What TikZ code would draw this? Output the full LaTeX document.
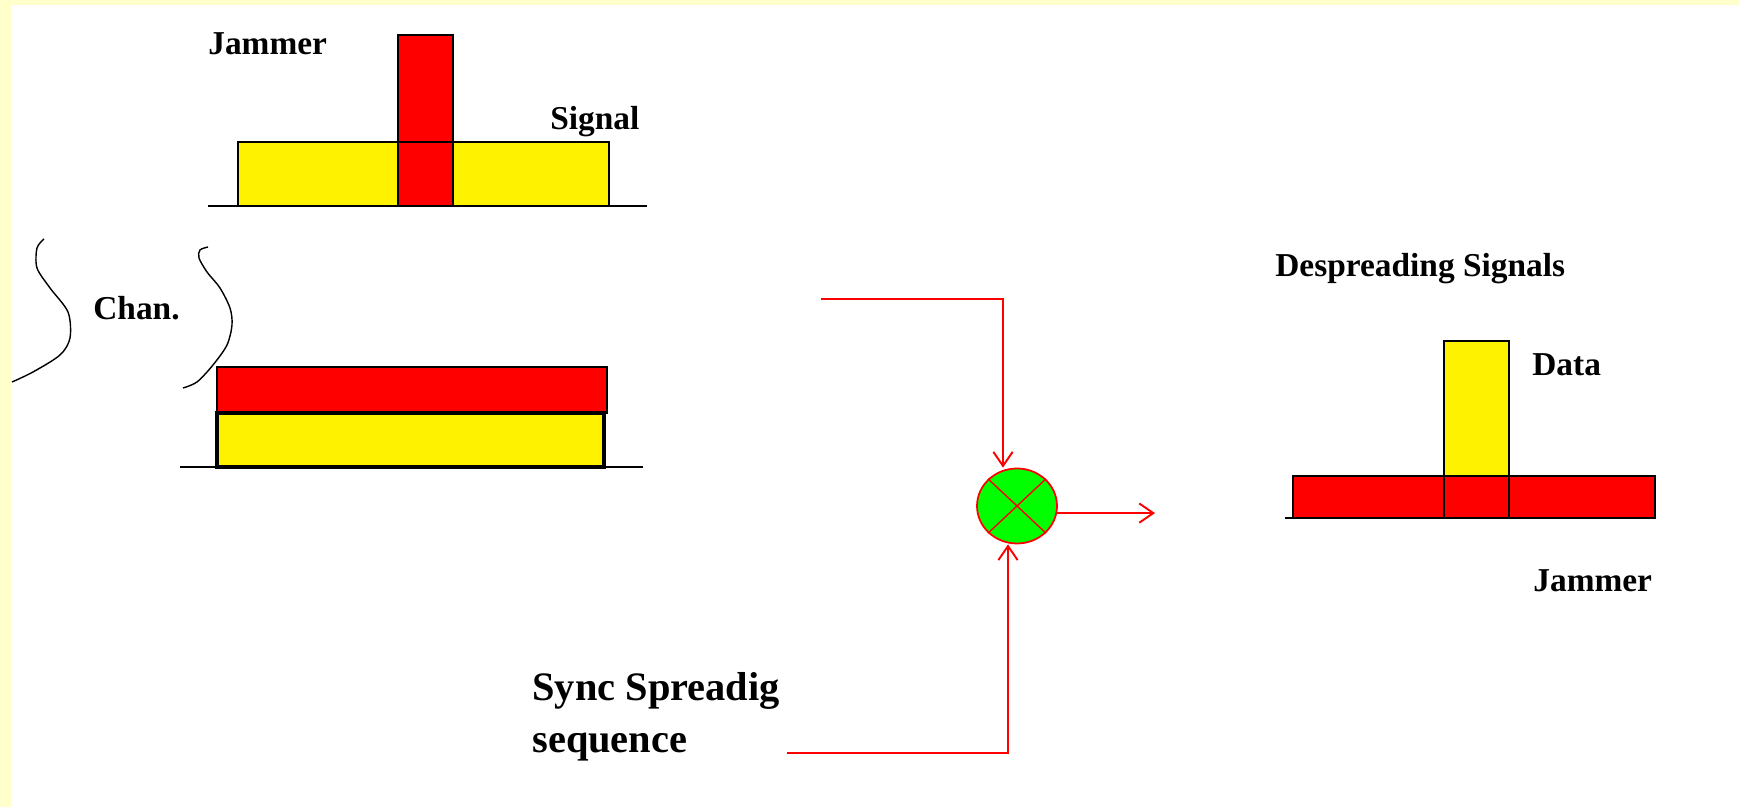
\documentclass[tikz,border=0pt]{standalone}
\usepackage{fontspec}
\setmainfont{Liberation Serif}
\usetikzlibrary{arrows.meta,shapes.geometric}

\definecolor{pagebg}{HTML}{FFFFCC}

\begin{document}
\begin{tikzpicture}[x=2cm,y=2cm,
    lbl/.style={font=\bfseries\fontsize{19}{22}\selectfont, anchor=base west, inner sep=0pt},
    jam/.style={fill=red, draw=black, line width=1.4pt},
    sig/.style={fill=yellow, draw=black, line width=1.4pt},
    axis/.style={draw=black, line width=1.4pt},
    chan/.style={draw=black, line width=0.8pt},
    feed/.style={draw=red, line width=1.1pt},
    tip/.style={-{Straight Barb[length=8pt,width=11pt]}}]

% ---------- page ----------
\fill[pagebg] (0,0) rectangle (17.39,8.07);
\fill[white] (0.11,0) rectangle (17.39,8.02);
\useasboundingbox (0,0) rectangle (17.39,8.07);

% ---------- (A) jammer on top of the spread signal ----------
\begin{scope}
  \draw[axis] (2.08,6.01) -- (6.47,6.01);
  \path[sig] (2.38,6.01) rectangle (6.09,6.65);
  \path[jam] (3.98,6.01) rectangle (4.53,7.72);
  \draw[axis] (2.38,6.01) rectangle (6.09,6.65);
  \node[lbl] (jamtop) at (2.08,7.52) {Jammer};
  \node[lbl] (sigtop) at (5.50,6.77) {Signal};
\end{scope}

% ---------- (B) channel ----------
\begin{scope}
  \draw[chan] plot[smooth] coordinates {(0.44,5.68) (0.37,5.59) (0.37,5.39) (0.50,5.19)
    (0.68,4.95) (0.70,4.69) (0.60,4.52) (0.33,4.35) (0.12,4.25)};
  \draw[chan] plot[smooth] coordinates {(2.08,5.60) (2.00,5.57) (1.99,5.49) (2.07,5.35)
    (2.20,5.19) (2.30,4.99) (2.32,4.82) (2.27,4.62) (2.13,4.42) (1.97,4.25) (1.83,4.19)};
  \node[lbl] (chan) at (0.93,4.87) {Chan.};
  \draw[axis] (1.80,3.40) -- (6.43,3.40);
  \path[jam] (2.17,3.94) rectangle (6.07,4.40);
  \path[sig, line width=2.2pt] (2.17,3.40) rectangle (6.04,3.94);
\end{scope}

% ---------- (C) mixing with the sync sequence ----------
\begin{scope}
  \node[ellipse, fill=green, draw=red, line width=1pt,
        minimum width=1.6cm, minimum height=1.5cm, inner sep=0pt] (mixer) at (10.17,3.01) {};
  \draw[red, line width=0.8pt] (mixer.north west) -- (mixer.south east)
                               (mixer.north east) -- (mixer.south west);
  \coordinate (chanout) at (8.21,5.08);
  \coordinate (topcorner) at (10.03,5.08);
  \coordinate (synctail) at (7.87,0.54);
  \coordinate (botcorner) at (10.08,0.54);
  \coordinate (outtip) at (11.55,2.94);
  \draw[feed, tip] (chanout) -- (topcorner) -- (topcorner |- mixer.north);
  \draw[feed, tip] (synctail) -- (botcorner) -- (botcorner |- mixer.south);
  \draw[feed, tip] (mixer.-10) -- (mixer.-10 -| outtip);
  \node[lbl, font=\bfseries\fontsize{23}{30}\selectfont, align=left] (sync) at (5.32,0.54)
    {Sync Spreadig\\sequence};
\end{scope}

% ---------- (D) after despreading ----------
\begin{scope}
  \node[lbl] (desp) at (12.75,5.30) {Despreading Signals};
  \draw[axis] (12.85,2.89) -- (16.55,2.89);
  \path[sig] (14.44,2.89) rectangle (15.09,4.66);
  \path[jam] (12.93,2.89) rectangle (16.55,3.31);
  \draw[axis] (14.44,2.89) rectangle (15.09,4.66);
  \node[lbl] (data) at (15.32,4.31) {Data};
  \node[lbl] (jambot) at (15.33,2.15) {Jammer};
\end{scope}

\end{tikzpicture}
\end{document}
